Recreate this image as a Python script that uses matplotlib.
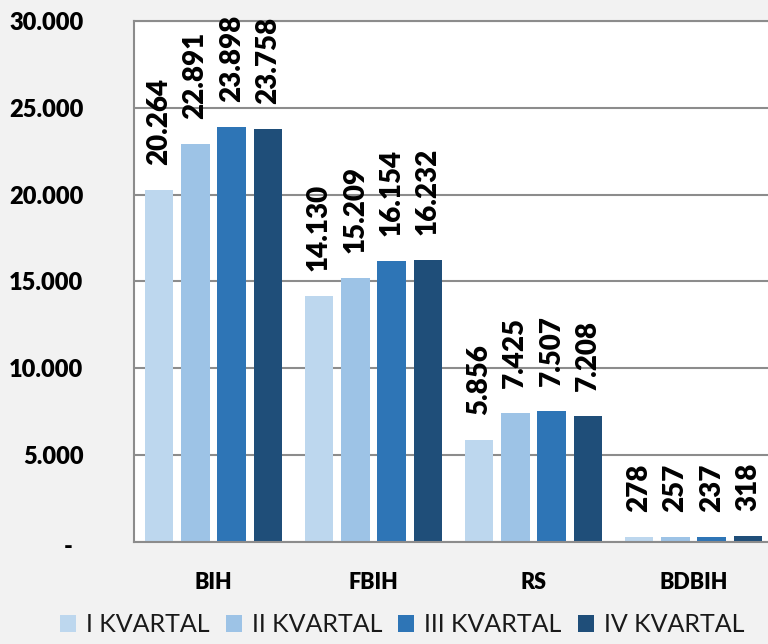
import matplotlib
matplotlib.use("Agg")
import matplotlib.pyplot as plt
import numpy as np
from matplotlib.ticker import FuncFormatter, MultipleLocator

plt.rcParams['font.family'] = ['Lato', 'DejaVu Sans']

categories = ["BIH", "FBIH", "RS", "BDBIH"]
series_names = ["I KVARTAL", "II KVARTAL", "III KVARTAL", "IV KVARTAL"]
q1 = [20264, 14130, 5856, 278]
q2 = [22891, 15209, 7425, 257]
q3 = [23898, 16154, 7507, 237]
q4 = [23758, 16232, 7208, 318]
series = [q1, q2, q3, q4]
colors = ["#BDD7EE", "#9DC3E6", "#2E75B6", "#1F4E79"]
zero_label = "-"

BOLD = "heavy"

fig = plt.figure(figsize=(7.68, 6.44), dpi=100, facecolor="#F2F2F2")
ax = fig.add_axes([133.5 / 768, 102.5 / 644, 640 / 768, 520.5 / 644])
ax.set_facecolor("white")

x = np.arange(len(categories))
pitch = 0.227
width = 0.18
for i, (vals, name, c) in enumerate(zip(series, series_names, colors)):
    pos = x + (i - 1.5) * pitch
    ax.bar(pos, vals, width=width, color=c, label=name, zorder=2)
    for px, v in zip(pos, vals):
        lbl = f"{v:,}".replace(",", ".")
        ax.annotate(lbl, (px, v), xytext=(0, 18), textcoords="offset points",
                    rotation=90, ha="center", va="bottom", fontsize=20,
                    fontweight=BOLD, color="black", zorder=4)

ax.set_xlim(-0.5, 3.5)
ax.set_ylim(0, 30000)
ax.yaxis.set_major_locator(MultipleLocator(5000))


def fmt(v, pos):
    if v == 0:
        return ""
    return f"{int(v):,}".replace(",", ".")


ax.yaxis.set_major_formatter(FuncFormatter(fmt))
# zero tick shown as a dash (accounting style), offset like the original
ax.annotate(zero_label, xy=(0, 0), xycoords=("axes fraction", "data"),
            xytext=(-65 * 72 / 100, -5 * 72 / 100), textcoords="offset points",
            ha="center", va="center", fontsize=17, fontweight=BOLD,
            color="black", annotation_clip=False)

ax.grid(axis="y", color="#8C8C8C", linewidth=1.5, zorder=1)
ax.set_axisbelow(True)
ax.set_xticks(x)
ax.set_xticklabels(categories, fontsize=15.5, fontweight=BOLD)
ax.tick_params(axis="x", length=0, pad=22)
ax.tick_params(axis="y", length=0, pad=36, labelsize=17)
for lab in ax.get_yticklabels():
    lab.set_fontweight(BOLD)

for s in ["left", "top", "bottom"]:
    ax.spines[s].set_color("#8C8C8C")
    ax.spines[s].set_linewidth(1.5)
ax.spines["right"].set_visible(False)

leg = fig.legend(loc="center", bbox_to_anchor=(402 / 768, 19 / 644), ncol=4,
                 frameon=False, fontsize=18, handlelength=0.64, handleheight=0.64,
                 handletextpad=0.4, columnspacing=0.64)
for t in leg.get_texts():
    t.set_color("#1a1a1a")

fig.savefig("out.png", dpi=100, facecolor=fig.get_facecolor())
